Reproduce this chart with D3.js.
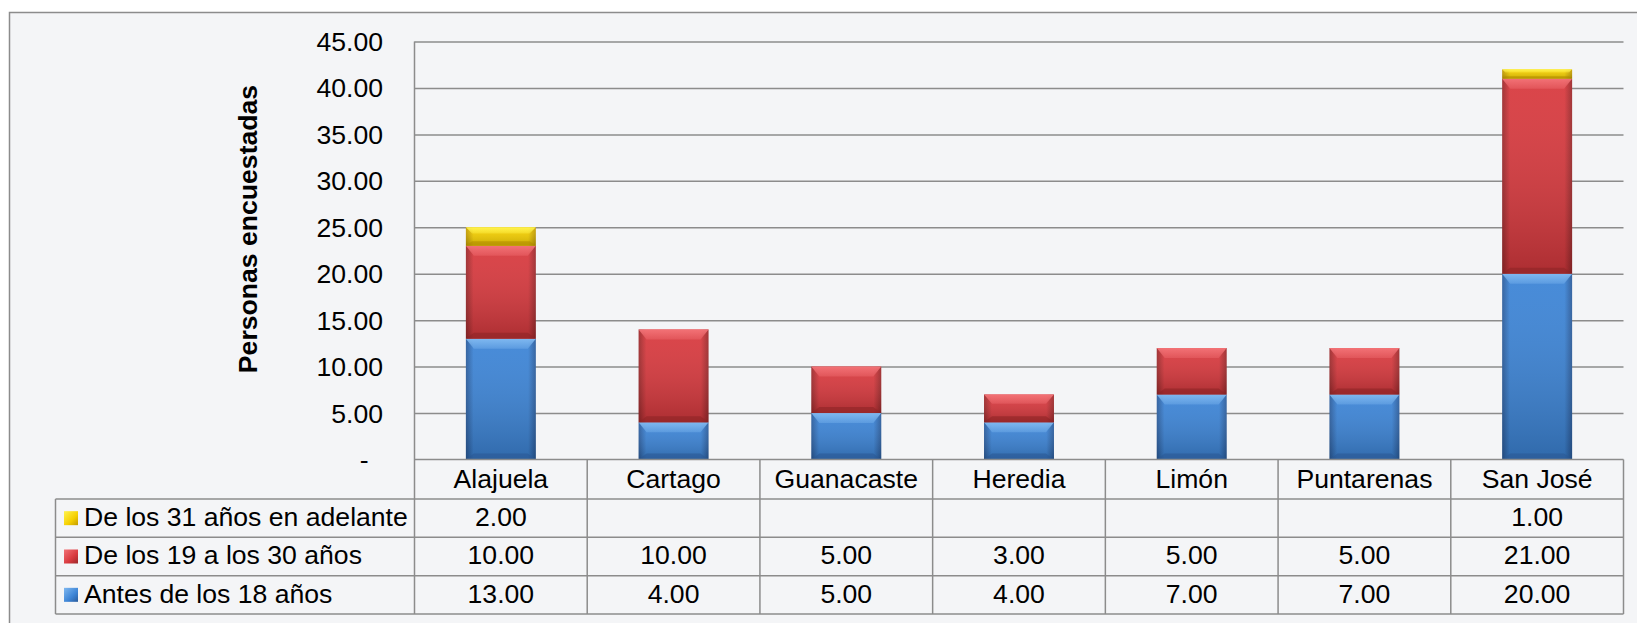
<!DOCTYPE html>
<html>
<head>
<meta charset="utf-8">
<script src="https://cdn.jsdelivr.net/npm/d3@7"></script>
<style>
  html, body { margin: 0; padding: 0; background: #ffffff; }
  svg { display: block; font-family: "Liberation Sans", Arial, sans-serif; }
</style>
</head>
<body>
<svg id="chart"></svg>
<script>
// datos del gráfico
var categories = ["Alajuela", "Cartago", "Guanacaste", "Heredia", "Limón", "Puntarenas", "San José"];
var antes18 = [13, 4, 5, 4, 7, 7, 20];
var de19a30 = [10, 10, 5, 3, 5, 5, 21];
var de31 = [2, null, null, null, null, null, 1];
var seriesNames = ["Antes de los 18 años", "De los 19 a los 30 años", "De los 31 años en adelante"];
var yTicks = [0, 5, 10, 15, 20, 25, 30, 35, 40, 45];

// colores (base, centro, borde, bisel, fondo)
var palette = [
  { key: "blue",   main: "#3c84d6", edge: "#2a5b9b", bevel: "#7fb8f0", bottom: "#2b5894" },
  { key: "red",    main: "#d8393e", edge: "#9b292b", bevel: "#f27276", bottom: "#8e2426" },
  { key: "yellow", main: "#f5cf00", edge: "#c29b00", bevel: "#fff34e", bottom: "#b38c00" }
];

var size = { width: 1637, height: 623 };
var plot = { left: 414.5, right: 1623.5, top: 41.5, bottom: 459.5 };
var table = { left: 55.5, rowTop: 499, rowH: 38.33 };
var fontSize = 26.6;

var svg = d3.select("#chart")
  .attr("width", size.width)
  .attr("height", size.height);

var defs = svg.append("defs");
palette.forEach(function(p){
  var g = defs.append("linearGradient")
    .attr("id", "h-" + p.key)
    .attr("x1", 0).attr("x2", 1).attr("y1", 0).attr("y2", 0);
  g.append("stop").attr("offset", "0%").attr("stop-color", p.edge);
  g.append("stop").attr("offset", "11%").attr("stop-color", p.main);
  g.append("stop").attr("offset", "89%").attr("stop-color", p.main);
  g.append("stop").attr("offset", "100%").attr("stop-color", p.edge);

  var b = defs.append("linearGradient")
    .attr("id", "b-" + p.key)
    .attr("x1", 0).attr("x2", 0).attr("y1", 0).attr("y2", 1);
  b.append("stop").attr("offset", "0%").attr("stop-color", p.bevel);
  b.append("stop").attr("offset", "100%").attr("stop-color", p.bevel).attr("stop-opacity", 0.35);

  var m = defs.append("linearGradient")
    .attr("id", "m-" + p.key)
    .attr("x1", 0).attr("x2", 1).attr("y1", 0).attr("y2", 1);
  m.append("stop").attr("offset", "0%").attr("stop-color", p.bevel);
  m.append("stop").attr("offset", "60%").attr("stop-color", p.main);
  m.append("stop").attr("offset", "100%").attr("stop-color", p.edge);
});
var vs = defs.append("linearGradient")
  .attr("id", "vshade")
  .attr("x1", 0).attr("x2", 0).attr("y1", 0).attr("y2", 1);
vs.append("stop").attr("offset", "0%").attr("stop-color", "#ffffff").attr("stop-opacity", 0.06);
vs.append("stop").attr("offset", "100%").attr("stop-color", "#000000").attr("stop-opacity", 0.2);

// fondo y marco
svg.append("rect")
  .attr("x", 9.5).attr("y", 12.5)
  .attr("width", 1640).attr("height", 640)
  .attr("fill", "#f4f5f7")
  .attr("stroke", "#8c8c8c")
  .attr("stroke-width", 1.5);

// escalas
var x = d3.scaleBand()
  .domain(categories)
  .range([plot.left, plot.right]);

var y = d3.scaleLinear()
  .domain([0, 45])
  .range([plot.bottom, plot.top]);

var barW = x.bandwidth() * 0.405;

// líneas de división
var grid = d3.axisLeft(y)
  .tickValues(yTicks.filter(function(d){ return d > 0; }))
  .tickSize(-(plot.right - plot.left))
  .tickFormat("");

svg.append("g")
  .attr("class", "grid")
  .attr("transform", "translate(" + plot.left + ",0)")
  .call(grid)
  .call(function(g){ g.select(".domain").remove(); })
  .selectAll("line")
  .attr("stroke", "#8c8c8c")
  .attr("stroke-width", 1.5);

// eje vertical
var yAxis = d3.axisLeft(y)
  .tickValues(yTicks)
  .tickSize(0)
  .tickPadding(31.5)
  .tickFormat(function(d){ return d === 0 ? "-" : d3.format(".2f")(d); });

var yg = svg.append("g")
  .attr("transform", "translate(" + plot.left + ",0)")
  .call(yAxis);
yg.select(".domain").remove();
yg.selectAll("text")
  .attr("font-size", fontSize)
  .attr("font-family", "Liberation Sans, Arial, sans-serif")
  .attr("fill", "#000")
  .attr("dy", "0.34em");
yg.selectAll(".tick").filter(function(d){ return d === 0; }).select("text")
  .attr("x", -46);

svg.append("text")
  .attr("transform", "translate(257," + 229 + ") rotate(-90)")
  .attr("text-anchor", "middle")
  .attr("font-size", fontSize)
  .attr("font-weight", "bold")
  .text("Personas encuestadas");

// barras apiladas
var rows = categories.map(function(c, i){
  return { cat: c, s0: antes18[i], s1: de19a30[i], s2: de31[i] || 0 };
});
var stack = d3.stack().keys(["s0", "s1", "s2"]);
var layers = stack(rows);

layers.forEach(function(layer, li){
  var p = palette[li];
  var segs = svg.append("g").selectAll("g")
    .data(layer.filter(function(d){ return d[1] - d[0] > 0; }))
    .enter()
    .append("g");

  segs.each(function(d){
    var g = d3.select(this);
    var x0 = x(d.data.cat) + (x.bandwidth() - barW) / 2;
    var x1 = x0 + barW;
    var yt = y(d[1]);
    var yb = y(d[0]);
    var h = yb - yt;
    var bv = Math.min(10, h / 3);
    var inset = Math.min(8, bv);

    g.append("rect")
      .attr("x", x0).attr("y", yt)
      .attr("width", barW).attr("height", h)
      .attr("fill", "url(#h-" + p.key + ")");
    g.append("rect")
      .attr("x", x0).attr("y", yt)
      .attr("width", barW).attr("height", h)
      .attr("fill", "url(#vshade)");
    // bisel superior
    g.append("path")
      .attr("d", "M" + x0 + "," + yt + "L" + x1 + "," + yt +
                 "L" + (x1 - inset) + "," + (yt + bv) + "L" + (x0 + inset) + "," + (yt + bv) + "Z")
      .attr("fill", "url(#b-" + p.key + ")");
    // borde inferior
    var bb = Math.min(6, h / 4);
    g.append("path")
      .attr("d", "M" + x0 + "," + yb + "L" + x1 + "," + yb +
                 "L" + (x1 - inset) + "," + (yb - bb) + "L" + (x0 + inset) + "," + (yb - bb) + "Z")
      .attr("fill", p.bottom)
      .attr("opacity", 0.6);
  });
});

// tabla de datos
var lineColor = "#8c8c8c";
var tg = svg.append("g").attr("class", "table");
var tableBottom = table.rowTop + table.rowH * 3;

tg.append("line")
  .attr("x1", plot.left).attr("x2", plot.left)
  .attr("y1", plot.top).attr("y2", tableBottom)
  .attr("stroke", lineColor).attr("stroke-width", 1.5);

tg.append("line")
  .attr("x1", plot.left).attr("x2", plot.right)
  .attr("y1", plot.bottom).attr("y2", plot.bottom)
  .attr("stroke", lineColor).attr("stroke-width", 1.5);
d3.range(4).forEach(function(i){
  tg.append("line")
    .attr("x1", table.left).attr("x2", plot.right)
    .attr("y1", table.rowTop + i * table.rowH).attr("y2", table.rowTop + i * table.rowH)
    .attr("stroke", lineColor).attr("stroke-width", 1.5);
});
tg.append("line")
  .attr("x1", table.left).attr("x2", table.left)
  .attr("y1", table.rowTop).attr("y2", tableBottom)
  .attr("stroke", lineColor).attr("stroke-width", 1.5);

tg.selectAll("line.col")
  .data(categories)
  .enter()
  .append("line")
  .attr("class", "col")
  .attr("x1", function(d){ return x(d) + x.bandwidth(); })
  .attr("x2", function(d){ return x(d) + x.bandwidth(); })
  .attr("y1", plot.bottom).attr("y2", tableBottom)
  .attr("stroke", lineColor).attr("stroke-width", 1.5);

// encabezados de categoría
tg.selectAll("text.cat")
  .data(categories)
  .enter()
  .append("text")
  .attr("class", "cat")
  .attr("x", function(d){ return x(d) + x.bandwidth() / 2; })
  .attr("y", (plot.bottom + table.rowTop) / 2)
  .attr("dy", "0.32em")
  .attr("text-anchor", "middle")
  .attr("font-size", fontSize)
  .text(function(d){ return d; });

// filas: de arriba hacia abajo
var tableRows = [
  { name: seriesNames[2], values: de31, p: palette[2] },
  { name: seriesNames[1], values: de19a30, p: palette[1] },
  { name: seriesNames[0], values: antes18, p: palette[0] }
];

tableRows.forEach(function(r, i){
  var cy = table.rowTop + table.rowH * (i + 0.5);
  tg.append("rect")
    .attr("x", 64).attr("y", cy - 7)
    .attr("width", 14).attr("height", 14)
    .attr("fill", "url(#m-" + r.p.key + ")");
  tg.append("text")
    .attr("x", 84)
    .attr("y", cy)
    .attr("dy", "0.3em")
    .attr("font-size", fontSize)
    .text(r.name);
  tg.selectAll(null)
    .data(r.values)
    .enter()
    .append("text")
    .attr("x", function(d, j){ return x(categories[j]) + x.bandwidth() / 2; })
    .attr("y", cy)
    .attr("dy", "0.3em")
    .attr("text-anchor", "middle")
    .attr("font-size", fontSize)
    .text(function(d){ return d == null ? "" : d3.format(".2f")(d); });
});
</script>
</body>
</html>
